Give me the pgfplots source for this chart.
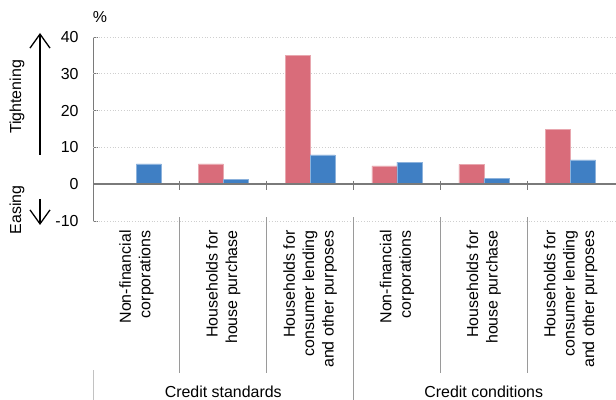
\documentclass[border=0pt]{standalone}
\usepackage{fontspec}
\setmainfont{Liberation Sans}
\usepackage{pgfplots}
\pgfplotsset{compat=1.18}
\usetikzlibrary{arrows.meta}

\definecolor{tightred}{HTML}{D96C7A}
\definecolor{tightblue}{HTML}{3F7FC4}
\definecolor{axisgrey}{HTML}{7A7A7A}
\definecolor{sepgrey}{HTML}{9A9A9A}
\definecolor{gridgrey}{HTML}{CFCFCF}

\begin{document}
\begin{tikzpicture}[font=\fontsize{16}{19.5}\selectfont,
  catlabel/.style={rotate=90, anchor=east, align=right, inner sep=0pt}]
\path[use as bounding box] (0,0) rectangle (616bp,400bp);
\begin{axis}[
  at={(93bp,179bp)}, anchor=south west, scale only axis,
  width=521bp, height=184bp,
  xmin=-0.5, xmax=5.5, ymin=-10, ymax=40,
  axis x line=none,
  axis y line*=left,
  y axis line style={axisgrey, line width=0.9bp},
  ytick={-10,0,10,20,30,40},
  yticklabels={-10,0,10,20,30,40},
  tick align=inside,
  major tick length=5bp,
  ytick style={axisgrey, line width=0.9bp},
  yticklabel style={font=\fontsize{16}{19}\selectfont, anchor=east, xshift=-11bp},
  clip=false,
]
  % horizontal dotted grid, running to the right edge
  \draw[gridgrey, dotted, line width=0.8bp] (axis cs:-0.5,-10) -- (axis cs:5.53,-10);
  \draw[gridgrey, dotted, line width=0.8bp] (axis cs:-0.5,10) -- (axis cs:5.53,10);
  \draw[gridgrey, dotted, line width=0.8bp] (axis cs:-0.5,20) -- (axis cs:5.53,20);
  \draw[gridgrey, dotted, line width=0.8bp] (axis cs:-0.5,30) -- (axis cs:5.53,30);
  \draw[gridgrey, dotted, line width=0.8bp] (axis cs:-0.5,40) -- (axis cs:5.53,40);

  % Credit tightening share, two series per category
  \addplot[ybar, bar width=25bp, bar shift=-12.5bp, fill=tightred, draw=tightred!60!white, line width=0.5bp]
    coordinates {(1,5.5) (2,35) (3,5) (4,5.4) (5,15)};
  \addplot[ybar, bar width=25bp, bar shift=12.5bp, fill=tightblue, draw=tightblue!60!white, line width=0.5bp]
    coordinates {(0,5.5) (1,1.3) (2,8) (3,6) (4,1.6) (5,6.6)};

  % zero line with small category ticks
  \draw[axisgrey, line width=2.2bp] (axis cs:-0.5,0) -- (axis cs:5.53,0);
  \draw[axisgrey, line width=1bp] (axis cs:0.5,1) -- (axis cs:0.5,-1.6);
  \draw[axisgrey, line width=1bp] (axis cs:1.5,1) -- (axis cs:1.5,-1.6);
  \draw[axisgrey, line width=1bp] (axis cs:2.5,1) -- (axis cs:2.5,-1.6);
  \draw[axisgrey, line width=1bp] (axis cs:3.5,1) -- (axis cs:3.5,-1.6);
  \draw[axisgrey, line width=1bp] (axis cs:4.5,1) -- (axis cs:4.5,-1.6);

  % category separators and group separators
  \draw[sepgrey, line width=0.8bp] (axis cs:0.5,-9) -- (axis cs:0.5,-51.4);
  \draw[sepgrey, line width=0.8bp] (axis cs:1.5,-9) -- (axis cs:1.5,-51.4);
  \draw[sepgrey, line width=0.8bp] (axis cs:3.5,-9) -- (axis cs:3.5,-51.4);
  \draw[sepgrey, line width=0.8bp] (axis cs:4.5,-9) -- (axis cs:4.5,-51.4);
  \draw[sepgrey, line width=0.8bp] (axis cs:2.5,-9) -- (axis cs:2.5,-59);
  \draw[sepgrey!60!white, line width=0.8bp] (axis cs:-0.5,-50.5) -- (axis cs:-0.5,-59);

  % category labels
  \node[catlabel] at (axis cs:0,-12.5) {Non-financial\\corporations};
  \node[catlabel] at (axis cs:1,-12.5) {Households for\\house purchase};
  \node[catlabel] at (axis cs:2,-12.5) {Households for\\consumer lending\\and other purposes};
  \node[catlabel] at (axis cs:3,-12.5) {Non-financial\\corporations};
  \node[catlabel] at (axis cs:4,-12.5) {Households for\\house purchase};
  \node[catlabel] at (axis cs:5,-12.5) {Households for\\consumer lending\\and other purposes};

  % group labels
  \node[anchor=base, inner sep=0pt] at (axis cs:1,-57.9) {Credit standards};
  \node[anchor=base, inner sep=0pt] at (axis cs:4,-57.9) {Credit conditions};
\end{axis}

% unit and direction annotations
\node[anchor=base, inner sep=0pt] at (100bp,377bp) {\%};
\node[rotate=90, inner sep=0pt] at (17bp,303bp) {Tightening};
\node[rotate=90, inner sep=0pt] at (17bp,190bp) {Easing};
\draw[line width=1.1bp, -{Straight Barb[length=14bp, width=20bp, line width=1.3bp]}] (40bp,245bp) -- (40bp,367bp);
\draw[line width=1.1bp, -{Straight Barb[length=14bp, width=20bp, line width=1.3bp]}] (40bp,201bp) -- (40bp,175bp);
\end{tikzpicture}
\end{document}
